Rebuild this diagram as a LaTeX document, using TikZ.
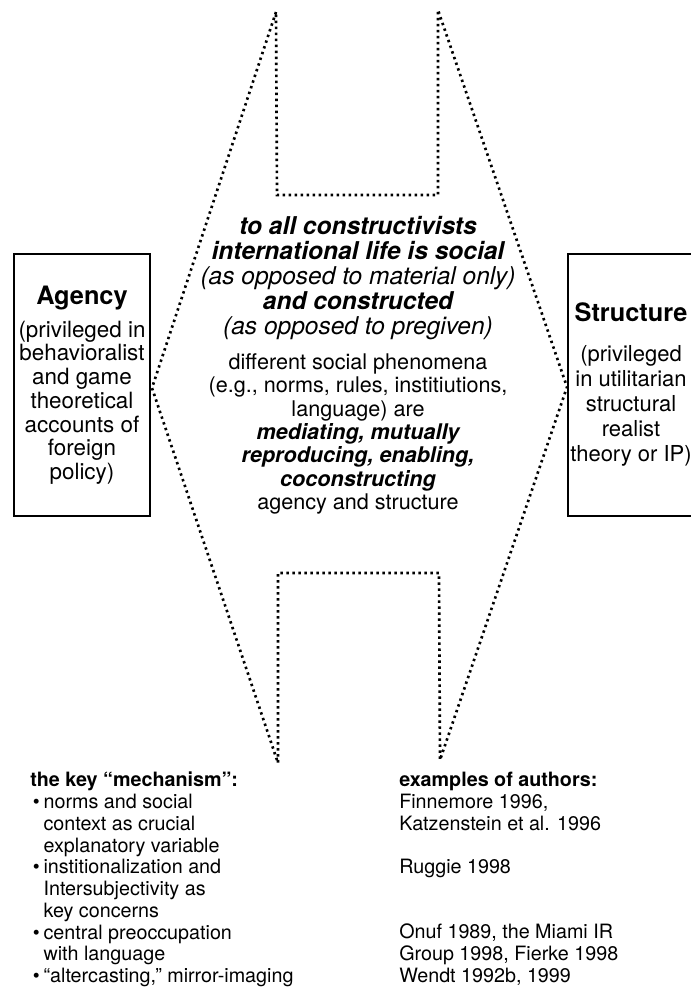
\documentclass[tikz,border=0pt]{standalone}
\usepackage{fontspec}
\setmainfont{TeX Gyre Heros}
\usetikzlibrary{positioning}

\tikzset{
    dotline/.style={line width=2pt, dash pattern=on 1.8pt off 2.7pt},
    sidebox/.style={draw, line width=1.6pt, minimum width=102pt, minimum height=196.5pt, inner sep=0pt},
    sidetext/.style={align=center, inner sep=0pt, font=\fontsize{16.8}{17.8}\selectfont},
    coltext/.style={anchor=north west, align=left, inner sep=0pt,
        font=\fontsize{14.8}{16.3}\selectfont},
}

\begin{document}
\begin{tikzpicture}[x=0.75pt, y=-0.75pt]
    \clip (0,0) rectangle (691,989);
    \coordinate (tl) at (276,12);
    \coordinate (tr) at (438,10);
    \coordinate (tlin) at (277,195);
    \coordinate (trin) at (438,195);
    \coordinate (lv) at (152,388);
    \coordinate (rv) at (567,387);
    \coordinate (bl) at (278,763);
    \coordinate (br) at (440,760);
    \coordinate (blin) at (278,573);
    \coordinate (brin) at (439,573);
    \draw[dotline] (tl) -- (lv) -- (bl) -- (blin) -- (brin) -- (br) -- (rv) -- (tr) -- (trin) -- (tlin) -- cycle;

    \node[sidebox] (agency) at (82,385) {};
    \node[sidetext] (agencytext) at (agency.center) {{\fontsize{19}{20}\selectfont\bfseries Agency}\\[7pt]
        (privileged in\\ behavioralist\\ and game\\ theoretical\\ accounts of\\ foreign\\ policy)};
    \node[sidebox] (structure) at (636,385) {};
    \node[sidetext, font=\fontsize{16.5}{18.8}\selectfont] (structuretext) at (631,385) {{\fontsize{19}{20}\selectfont\bfseries Structure}\\[11pt]
        (privileged\\ in utilitarian\\ structural\\ realist\\ theory or IP)};

    \node[align=center, inner sep=0pt, font=\fontsize{18.4}{18.8}\selectfont] (thesis) at (358,278) {
        {\bfseries\itshape to all constructivists}\\
        {\bfseries\itshape international life is social}\\
        {\itshape (as opposed to material only)}\\
        {\bfseries\itshape and constructed}\\
        {\itshape (as opposed to pregiven)}};
    \node[align=center, inner sep=0pt, font=\fontsize{16.2}{17.5}\selectfont, below=10pt of thesis] (claim) {
        different social phenomena\\
        (e.g., norms, rules, institiutions,\\
        language) are\\
        {\bfseries\itshape mediating, mutually}\\
        {\bfseries\itshape reproducing, enabling,}\\
        {\bfseries\itshape coconstructing}\\
        agency and structure};

    \node[coltext] (mechanism) at (30,772) {{\bfseries the key ``mechanism'':}\\
        \hspace*{2pt}\makebox[8pt][l]{\textbullet}norms and social\\
        \hspace*{10pt}context as crucial\\
        \hspace*{10pt}explanatory variable\\
        \hspace*{2pt}\makebox[8pt][l]{\textbullet}institionalization and\\
        \hspace*{10pt}Intersubjectivity as\\
        \hspace*{10pt}key concerns\\
        \hspace*{2pt}\makebox[8pt][l]{\textbullet}central preoccupation\\
        \hspace*{10pt}with language\\
        \hspace*{2pt}\makebox[8pt][l]{\textbullet}``altercasting,'' mirror-imaging};
    \node[coltext] (authors) at (399,772) {{\bfseries examples of authors:}\\
        Finnemore 1996,\\
        Katzenstein et al. 1996\\
        \mbox{}\\
        Ruggie 1998\\
        \mbox{}\\
        \mbox{}\\
        Onuf 1989, the Miami IR\\
        Group 1998, Fierke 1998\\
        Wendt 1992b, 1999};
\end{tikzpicture}
\end{document}
